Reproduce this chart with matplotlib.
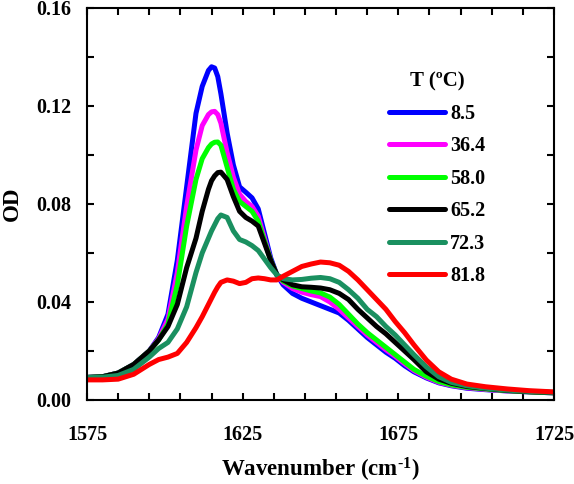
import matplotlib
matplotlib.use("Agg")
import matplotlib.pyplot as plt

plt.rcParams["font.family"] = "Liberation Serif"
plt.rcParams["font.weight"] = "bold"
plt.rcParams["mathtext.fontset"] = "custom"
plt.rcParams["mathtext.rm"] = "Liberation Serif:bold"
plt.rcParams["mathtext.default"] = "rm"

wavenumber = [1575, 1580, 1585, 1590, 1595, 1598, 1601, 1604, 1607, 1610,
              1612, 1614, 1615, 1616, 1617, 1618, 1620, 1622, 1624, 1626,
              1628, 1630, 1632, 1634, 1636, 1638, 1641, 1644, 1647, 1650,
              1653, 1656, 1659, 1662, 1665, 1668, 1671, 1674, 1677, 1680,
              1684, 1688, 1692, 1697, 1703, 1710, 1717, 1725]

od_8_5 = [0.0092, 0.0095, 0.0110, 0.0145, 0.0200, 0.0255, 0.0350, 0.0570, 0.0870, 0.1170,
          0.1280, 0.1345, 0.1360, 0.1355, 0.1320, 0.1250, 0.1090, 0.0960, 0.0870, 0.0848,
          0.0825, 0.0780, 0.0680, 0.0580, 0.0510, 0.0470, 0.0435, 0.0415, 0.0400, 0.0385,
          0.0370, 0.0355, 0.0325, 0.0290, 0.0255, 0.0225, 0.0195, 0.0170, 0.0140, 0.0115,
          0.0090, 0.0070, 0.0058, 0.0048, 0.0042, 0.0037, 0.0033, 0.0029]

od_36_4 = [0.0092, 0.0095, 0.0110, 0.0145, 0.0200, 0.0250, 0.0330, 0.0520, 0.0790, 0.1020,
           0.1120, 0.1165, 0.1176, 0.1178, 0.1165, 0.1130, 0.1010, 0.0910, 0.0840, 0.0810,
           0.0790, 0.0750, 0.0660, 0.0570, 0.0510, 0.0480, 0.0455, 0.0440, 0.0430, 0.0422,
           0.0400, 0.0370, 0.0335, 0.0300, 0.0265, 0.0235, 0.0205, 0.0178, 0.0148, 0.0120,
           0.0093, 0.0072, 0.0060, 0.0050, 0.0043, 0.0037, 0.0033, 0.0029]

od_58_0 = [0.0092, 0.0095, 0.0110, 0.0145, 0.0200, 0.0245, 0.0310, 0.0470, 0.0710, 0.0900,
           0.0985, 0.1030, 0.1045, 0.1052, 0.1053, 0.1040, 0.0950, 0.0860, 0.0810, 0.0790,
           0.0770, 0.0730, 0.0650, 0.0570, 0.0510, 0.0485, 0.0465, 0.0455, 0.0445, 0.0437,
           0.0420, 0.0390, 0.0350, 0.0310, 0.0275, 0.0245, 0.0215, 0.0185, 0.0155, 0.0125,
           0.0097, 0.0075, 0.0062, 0.0052, 0.0045, 0.0038, 0.0033, 0.0029]

od_65_2 = [0.0092, 0.0095, 0.0110, 0.0145, 0.0200, 0.0245, 0.0300, 0.0390, 0.0540, 0.0660,
           0.0770, 0.0860, 0.0895, 0.0915, 0.0928, 0.0930, 0.0900, 0.0830, 0.0770, 0.0745,
           0.0730, 0.0710, 0.0640, 0.0570, 0.0510, 0.0490, 0.0470, 0.0462, 0.0460, 0.0457,
           0.0450, 0.0435, 0.0410, 0.0370, 0.0335, 0.0300, 0.0270, 0.0235, 0.0200, 0.0165,
           0.0115, 0.0085, 0.0068, 0.0055, 0.0047, 0.0039, 0.0034, 0.0030]

od_72_3 = [0.0092, 0.0093, 0.0100, 0.0125, 0.0175, 0.0210, 0.0235, 0.0290, 0.0380, 0.0520,
           0.0600, 0.0660, 0.0690, 0.0715, 0.0740, 0.0755, 0.0745, 0.0690, 0.0655, 0.0645,
           0.0630, 0.0610, 0.0575, 0.0540, 0.0510, 0.0495, 0.0490, 0.0492, 0.0497, 0.0500,
           0.0495, 0.0480, 0.0450, 0.0415, 0.0370, 0.0340, 0.0300, 0.0265, 0.0225, 0.0185,
           0.0135, 0.0095, 0.0072, 0.0058, 0.0048, 0.0040, 0.0035, 0.0031]

od_81_8 = [0.0082, 0.0082, 0.0085, 0.0105, 0.0145, 0.0165, 0.0175, 0.0190, 0.0235, 0.0295,
           0.0340, 0.0390, 0.0415, 0.0440, 0.0462, 0.0480, 0.0490, 0.0485, 0.0475, 0.0480,
           0.0495, 0.0498, 0.0495, 0.0490, 0.0490, 0.0505, 0.0525, 0.0545, 0.0555, 0.0563,
           0.0560, 0.0550, 0.0525, 0.0490, 0.0450, 0.0410, 0.0370, 0.0320, 0.0275, 0.0225,
           0.0163, 0.0115, 0.0085, 0.0065, 0.0054, 0.0045, 0.0038, 0.0033]

labels = ["8.5", "36.4", "58.0", "65.2", "72.3", "81.8"]
series = [od_8_5, od_36_4, od_58_0, od_65_2, od_72_3, od_81_8]
colors = ["#0000ff", "#ff00ff", "#00ff00", "#000000", "#1a9060", "#ff0000"]

fig = plt.figure(figsize=(5.74, 4.84), dpi=100)
ax = fig.add_axes([0.1516, 0.1736, 0.8136, 0.8099])

for od, lab, col in zip(series, labels, colors):
    ax.plot(wavenumber, od, color=col, linewidth=3.6, label=lab,
            solid_joinstyle="round", solid_capstyle="round")

ax.set_xlim(1575, 1725)
ax.set_ylim(0, 0.16)
ax.set_xticks([1575, 1625, 1675, 1725])
ax.set_xticks(range(1585, 1725, 10), minor=True)
ax.set_yticks([0.00, 0.04, 0.08, 0.12, 0.16])
ax.set_yticks([0.02, 0.06, 0.10, 0.14], minor=True)
ax.set_yticklabels(["0.00", "0.04", "0.08", "0.12", "0.16"])

for which in ["major", "minor"]:
    ax.tick_params(which=which, direction="in", length=5, width=1.5,
                   top=True, right=True)
ax.tick_params(axis="x", which="major", pad=18, labelsize=14.5)
ax.tick_params(axis="y", which="major", pad=11, labelsize=14.5)

for sp in ax.spines.values():
    sp.set_linewidth(1.5)

ax.set_xlabel("Wavenumber (cm$^{\u2010 1}$)", fontsize=16.5, fontweight="bold", labelpad=8)
ax.set_ylabel("OD", fontsize=16.5, fontweight="bold", labelpad=10)

leg = ax.legend(title="T (\u00baC)", frameon=False, fontsize=14.5,
                title_fontproperties={"size": 15, "weight": "bold"},
                loc="upper left", bbox_to_anchor=(0.607, 0.885),
                handlelength=2.8, handletextpad=0.25, labelspacing=0.62)
for line in leg.get_lines():
    line.set_linewidth(3.6)

fig.savefig("out.png", dpi=100)
